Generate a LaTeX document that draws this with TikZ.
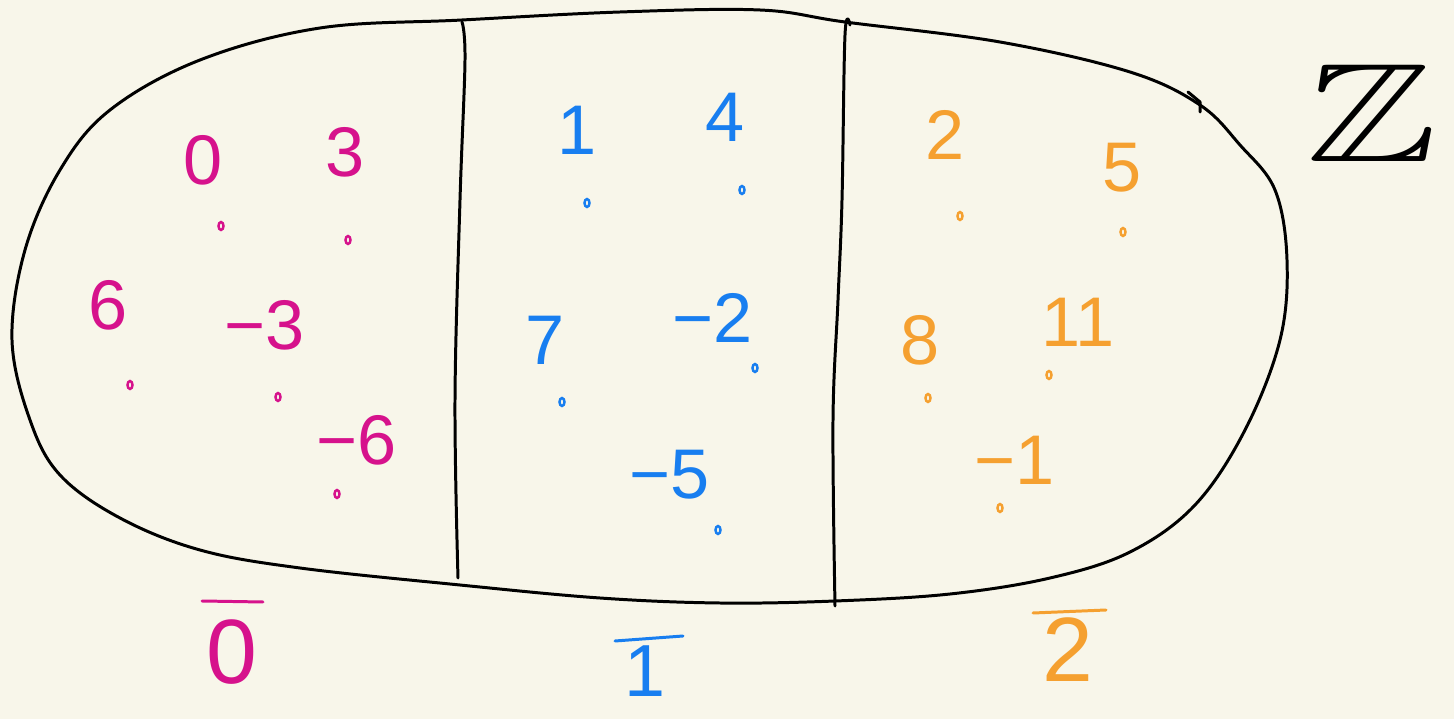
\documentclass[tikz,border=0pt]{standalone}
\usepackage{fontspec}
\usepackage{amsfonts}
\setmainfont{Liberation Sans}
\definecolor{bg}{RGB}{248,246,234}
\definecolor{pk}{RGB}{214,18,140}
\definecolor{bl}{RGB}{24,126,240}
\definecolor{og}{RGB}{245,160,48}
\begin{document}
\begin{tikzpicture}[x=0.02cm,y=-0.02cm,
  outline/.style={line width=1.7pt,line cap=round,line join=round},
  num/.style={font=\fontsize{40}{40}\selectfont,inner sep=0pt},
  big/.style={font=\fontsize{52}{52}\selectfont,inner sep=0pt},
  bar/.style={line width=1.7pt,line cap=round},
  dotmark/.style={line width=1.4pt}]
\fill[bg] (0,0) rectangle (1454,719);
\useasboundingbox (0,0) rectangle (1454,719);
% blob
\draw[outline] plot[smooth cycle,tension=0.6] coordinates{
 (462,20) (320,28) (200,60) (110,110) (60,170) (25,250) (12,340) (30,420) (60,475)
 (120,518) (200,550) (300,568) (460,585) (600,598) (720,603) (835,601) (950,594)
 (1050,578) (1130,552) (1195,505) (1245,430) (1280,340) (1287,260) (1275,190)
 (1240,145) (1200,105) (1130,72) (1000,42) (845,22) (760,10) (620,12)};
\draw[outline] (1188,92) -- (1200,102) -- (1200,112);
% dividers
\draw[outline] plot[smooth,tension=0.6] coordinates{(462,22) (465,60) (460,200) (455,400) (458,578)};
\draw[outline] plot[smooth,tension=0.6] coordinates{(850,25) (845,35) (842,200) (838,300) (833,420) (835,606)};
% pink
\begin{scope}[pk]
\node[num] (p0) at (203,160) {0};
\node[num] (p3) at (345,152) {3};
\node[num] (p6) at (108,305) {6};
\node[num] (pm3) at (265,325) {−3};
\node[num] (pm6) at (357,440) {−6};
\foreach \x/\y in {221/226,348/240,130/385,278/397,337/494}
  \draw[dotmark] (\x,\y) ellipse (2.5 and 4);
\end{scope}
% blue
\begin{scope}[bl]
\node[num] (b1) at (577,130) {1};
\node[num] (b4) at (725,117) {4};
\node[num] (b7) at (545,340) {7};
\node[num] (bm2) at (713,318) {−2};
\node[num] (bm5) at (670,475) {−5};
\foreach \x/\y in {587/203,742/190,562/402,755/368,718/530}
  \draw[dotmark] (\x,\y) ellipse (2.5 and 4);
\end{scope}
% orange
\begin{scope}[og]
\node[num] (o2) at (945,135) {2};
\node[num] (o5) at (1122,168) {5};
\node[num] (o8) at (920,340) {8};
\node[num] (o11) at (1078,322) {11};
\node[num] (om1) at (1015,460) {−1};
\foreach \x/\y in {960/216,1123/232,928/398,1049/375,1000/508}
  \draw[dotmark] (\x,\y) ellipse (2.5 and 4);
\end{scope}
% class labels (digit with overline bar)
\node[big,pk] (c0) at (232,652) {0};
\draw[bar,pk] (202,601) -- (263,602);
\node[font=\fontsize{42}{42}\selectfont,inner sep=0pt,bl] (c1) at (645,671) {1};
\draw[bar,bl] (615,641) -- (683,636);
\node[big,og] (c2) at (1068,650) {2};
\draw[bar,og] (1033,613) -- (1106,610);
% Z
\node[font=\fontsize{80}{80}\selectfont,inner sep=0pt,xscale=1.4] (Z) at (1372,113) {$\mathbb{Z}$};
\end{tikzpicture}
\end{document}
